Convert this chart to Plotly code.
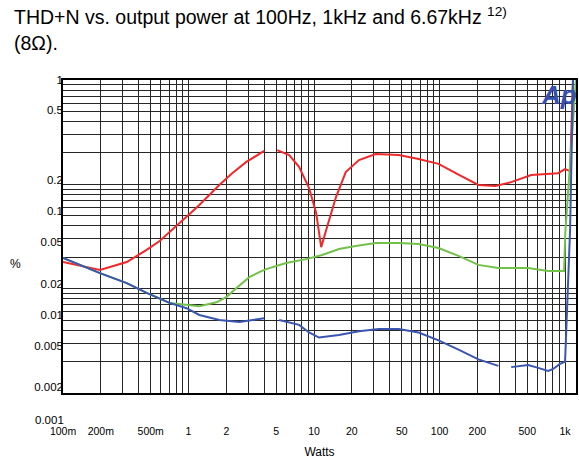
import plotly.graph_objects as go

# ---------------- data ----------------
red_w = [0.1, 0.137, 0.197, 0.322, 0.464, 0.589, 0.774, 1.02, 1.22, 1.76, 2.23, 2.89, 4.01, 4.5,
         5.09, 6.34, 7.60, 9.13, 10.4, 11.4, 12.7, 14.96, 17.9, 22.8, 31.0, 47.3, 68.1, 98.2,
         141.6, 204, 278, 372, 537, 694, 880, 1000, 1096, 1160]
red_pct = [0.018, 0.0165, 0.0151, 0.018, 0.0235, 0.0286, 0.0381, 0.052, 0.0634, 0.0986, 0.128, 0.164, 0.209, None,
           0.213, 0.191, 0.147, 0.0922, 0.0531, 0.025, 0.039, 0.0756, 0.131, 0.171, 0.195, 0.191, 0.175, 0.157,
           0.124, 0.0986, 0.0964, 0.105, 0.123, 0.126, 0.128, 0.140, 0.134, 1.2]

green_w = [0.1, 0.137, 0.197, 0.322, 0.464, 0.706, 0.982, 1.22, 1.67, 2.0, 2.40, 3.05, 3.66, 4.16,
           6.0, 8.64, 11.6, 15.8, 21.5, 31.0, 47.3, 68.1, 98.2, 141.6, 204, 294, 508, 733, 982, 1005, 1220]
green_pct = [0.0197, 0.0169, 0.0141, 0.0113, 0.0091, 0.0073, 0.0070, 0.0068, 0.0074, 0.0083, 0.0101, 0.0129, 0.0144, 0.0154,
             0.0176, 0.0192, 0.0210, 0.0240, 0.0256, 0.0274, 0.0274, 0.0268, 0.0245, 0.0206, 0.0169, 0.0158, 0.0158, 0.0148, 0.0148, 0.035, 1.0]

blue_w = [0.1, 0.137, 0.197, 0.322, 0.464, 0.706, 0.964, 1.22, 1.76, 2.54, 3.66, 4.01, 4.5,
          5.28, 7.60, 9.13, 10.96, 15.8, 22.8, 32.8, 47.3, 68.1, 98.2, 141.6, 204, 294, 330,
          372, 508, 611, 733, 803, 912, 1000, 1096, 1157]
blue_pct = [0.0197, 0.0169, 0.0141, 0.0113, 0.0091, 0.0073, 0.0065, 0.0056, 0.0050, 0.0048, 0.0051, 0.0052, None,
            0.0050, 0.0045, 0.0038, 0.0034, 0.0036, 0.0039, 0.0041, 0.0041, 0.0038, 0.0032, 0.0026, 0.0021, 0.00182, None,
            0.00177, 0.00185, 0.00174, 0.00163, 0.0017, 0.0019, 0.0020, 0.0365, 1.0]

x_tick_vals = [0.1, 0.2, 0.5, 1, 2, 5, 10, 20, 50, 100, 200, 500, 1000]
x_tick_text = ["100m", "200m", "500m", "1", "2", "5", "10", "20", "50", "100", "200", "500", "1k"]

# y labels as printed in the reference (their printed positions do not follow the grid)
y_tick_text = ["1", "0.5", "0.2", "0.1", "0.05", "0.02", "0.01", "0.005", "0.002"]
y_tick_pos = [1.0, 0.52, 0.11, 0.055, 0.028, 0.011, 0.0056, 0.0028, 0.00114]
y_extra_label = "0.001"

title_text = "THD+N vs. output power at 100Hz, 1kHz and 6.67kHz <sup>12)</sup><br>(8Ω)."

# log grid lines (1..9 x 10^n)
x_grid = [k * 10 ** e for e in (-1, 0, 1, 2) for k in range(1, 10)] + [1000]
y_grid = [k * 10 ** e for e in (-3, -2, -1) for k in range(1, 10)] + [1]

FONT = "Liberation Sans, Arial, sans-serif"
GRID = "#262626"

fig = go.Figure()
fig.add_trace(go.Scatter(x=red_w, y=red_pct, mode="lines", line=dict(color="#f0282a", width=2),
                         connectgaps=False, showlegend=False))
fig.add_trace(go.Scatter(x=green_w, y=green_pct, mode="lines", line=dict(color="#72c24a", width=2),
                         connectgaps=False, showlegend=False))
fig.add_trace(go.Scatter(x=blue_w, y=blue_pct, mode="lines", line=dict(color="#3a55b0", width=2),
                         connectgaps=False, showlegend=False))

fig.update_layout(
    width=579, height=465,
    margin=dict(l=63, r=1, t=80, b=72),
    paper_bgcolor="white", plot_bgcolor="white",
    font=dict(family=FONT, color="black"),
    xaxis=dict(
        type="log", range=[-1, 3.087],
        tickmode="array", tickvals=x_tick_vals, ticktext=x_tick_text,
        tickfont=dict(size=10.5, family=FONT), ticks="", ticklabelstandoff=28,
        showgrid=True, gridcolor=GRID, gridwidth=1,
        minor=dict(tickmode="array", tickvals=x_grid, showgrid=True, gridcolor=GRID, gridwidth=1, ticks=""),
        showline=True, linecolor="black", linewidth=1.5, mirror=True, zeroline=False,
        title=dict(text="Watts", font=dict(size=12, family=FONT), standoff=11),
    ),
    yaxis=dict(
        type="log", range=[-3, 0],
        tickmode="array", tickvals=y_tick_pos, ticktext=y_tick_text,
        tickfont=dict(size=11.5, family=FONT), ticks="", ticklabelstandoff=-4,
        showgrid=False,
        minor=dict(tickmode="array", tickvals=y_grid, showgrid=True, gridcolor=GRID, gridwidth=1, ticks=""),
        showline=True, linecolor="black", linewidth=1.5, mirror=True, zeroline=False,
    ),
    annotations=[
        dict(text=title_text, xref="paper", yref="paper", x=-51 / 515, y=(393 - 2) / 313,
             xanchor="left", yanchor="top", align="left", showarrow=False,
             font=dict(size=19.5, family=FONT, color="black")),
        dict(text=y_extra_label, xref="paper", yref="paper", x=0, y=-27 / 313,
             xanchor="right", yanchor="middle", xshift=3, showarrow=False,
             font=dict(size=11.5, family=FONT, color="black")),
        dict(text="%", xref="paper", yref="paper", x=-48 / 515, y=129 / 313,
             xanchor="center", yanchor="middle", showarrow=False,
             font=dict(size=12, family=FONT, color="black")),
        dict(text="<b><i>Ap</i></b>", xref="paper", yref="paper", x=0.967, y=0.952,
             xanchor="center", yanchor="middle", showarrow=False,
             font=dict(size=26, family="Liberation Sans Narrow, Liberation Sans, Arial", color="#3550b0")),
    ],
)

fig.write_html("out.html",
               config={"displayModeBar": False},
               post_script="document.body.style.margin='0';document.body.style.overflow='hidden';")
